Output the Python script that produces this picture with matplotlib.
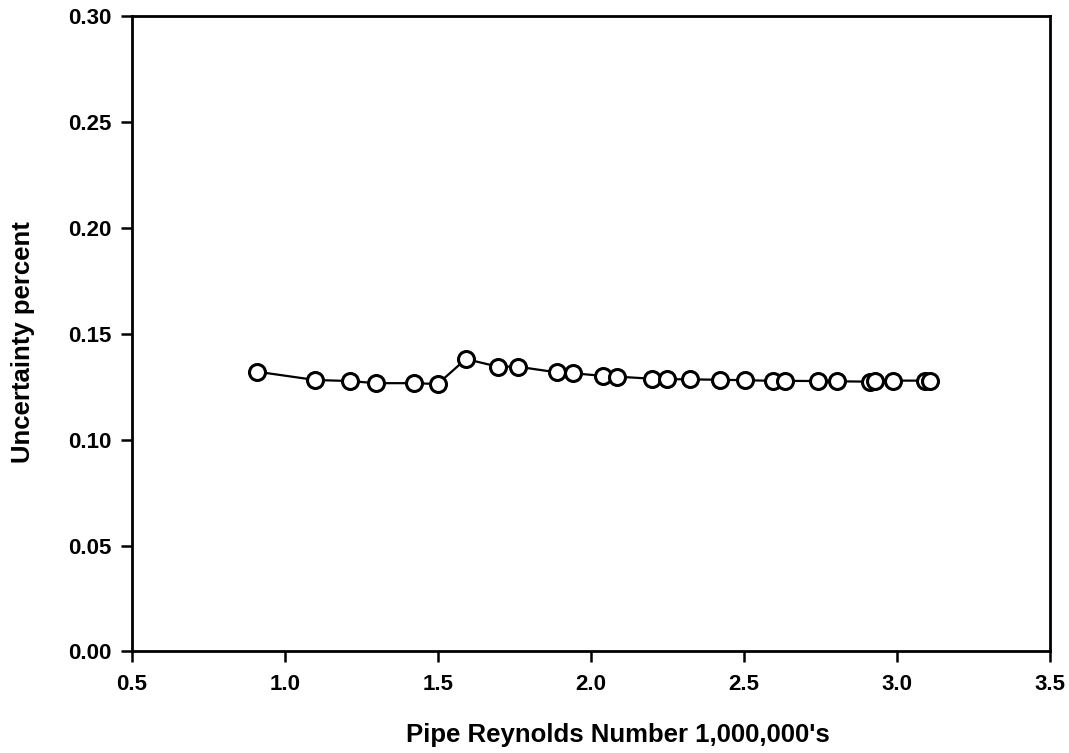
import matplotlib.pyplot as plt

# Pipe Reynolds number (millions) and uncertainty percent
reynolds = [0.909, 1.099, 1.213, 1.296, 1.421, 1.499, 1.591, 1.695, 1.760, 1.888,
            1.942, 2.040, 2.084, 2.198, 2.247, 2.324, 2.422, 2.503, 2.596, 2.634,
            2.743, 2.803, 2.912, 2.928, 2.988, 3.092, 3.108]
uncertainty = [0.1320, 0.1281, 0.1276, 0.1266, 0.1266, 0.1262, 0.1380, 0.1344, 0.1344, 0.1317,
               0.1313, 0.1300, 0.1297, 0.1287, 0.1285, 0.1284, 0.1282, 0.1280, 0.1277, 0.1277,
               0.1276, 0.1275, 0.1273, 0.1274, 0.1278, 0.1278, 0.1278]

xticks = [0.5, 1.0, 1.5, 2.0, 2.5, 3.0, 3.5]
yticks = [0.00, 0.05, 0.10, 0.15, 0.20, 0.25, 0.30]

plt.rcParams['font.family'] = ['Liberation Sans', 'DejaVu Sans']

fig = plt.figure(figsize=(10.69, 7.53), dpi=100)
ax = fig.add_axes([0.1235, 0.1348, 0.8587, 0.8444])

ax.plot(reynolds, uncertainty, color='black', linewidth=1.6, marker='o',
        markersize=11.5, markerfacecolor='white', markeredgecolor='black',
        markeredgewidth=2.2)

ax.set_xlim(0.5, 3.5)
ax.set_ylim(0.0, 0.30)
ax.set_xticks(xticks)
ax.set_xticklabels([f'{v:.1f}' for v in xticks])
ax.set_yticks(yticks)
ax.set_yticklabels([f'{v:.2f}' for v in yticks])
ax.tick_params(direction='out', length=8, width=1.8, labelsize=16)
ax.tick_params(axis='x', pad=8)
ax.tick_params(axis='y', pad=7)
for lbl in ax.get_xticklabels() + ax.get_yticklabels():
    lbl.set_fontweight('bold')
for s in ax.spines.values():
    s.set_linewidth(2)

ax.set_xlabel("Pipe Reynolds Number 1,000,000's", fontsize=18.5, fontweight='bold')
ax.xaxis.set_label_coords(0.529, -0.112)
ax.set_ylabel('Uncertainty percent', fontsize=18.5, fontweight='bold')
ax.yaxis.set_label_coords(-0.106, 0.487)

fig.savefig('out.png', dpi=100)
